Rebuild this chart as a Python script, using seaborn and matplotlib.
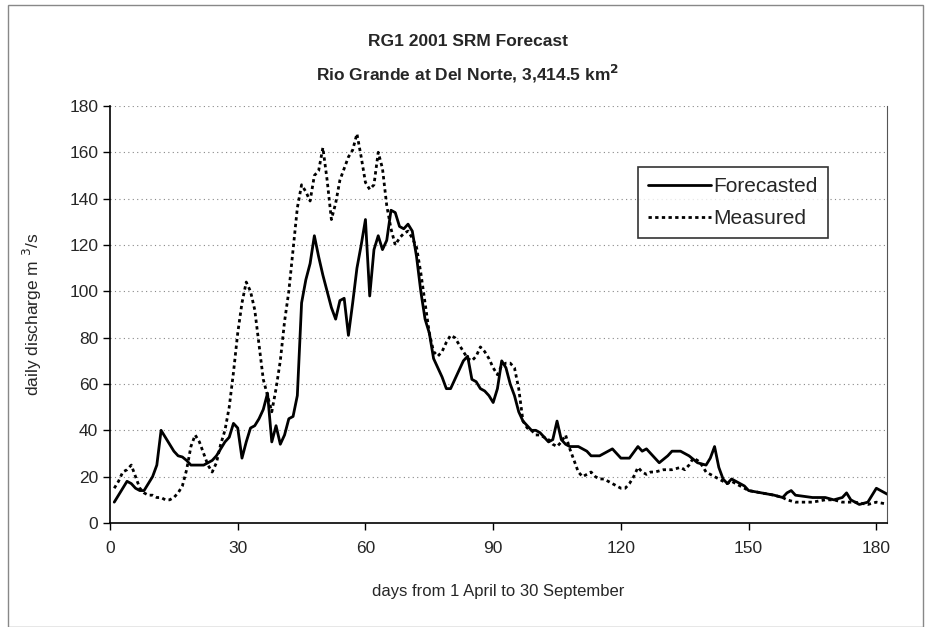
import numpy as np
import pandas as pd
import matplotlib
matplotlib.use("Agg")
import matplotlib.pyplot as plt
import seaborn as sns

# ---- data ----
fc_days = [1, 2, 3, 4, 5, 6, 7, 8, 9, 10, 11, 12, 13, 14, 15, 16, 17, 18, 19, 20, 21, 22, 23, 24, 25, 26, 27, 28, 29, 30,
           31, 32, 33, 34, 35, 36, 37, 38, 39, 40, 41, 42, 43, 44, 45, 46, 47, 48, 49, 50, 51, 52, 53, 54, 55, 56, 57, 58, 59, 60,
           61, 62, 63, 64, 65, 66, 67, 68, 69, 70, 71, 72, 73, 74, 75, 76, 77, 78, 79, 80, 81, 82, 83, 84, 85, 86, 87, 88, 89, 90,
           91, 92, 93, 94, 95, 96, 97, 98, 99, 100, 101, 102, 103, 104, 105, 106, 107, 108, 110, 112, 113, 115, 117, 118, 120,
           122, 124, 125, 126, 128, 129, 131, 132, 134, 136, 138, 140, 141, 142, 143, 144, 145, 146, 147, 149, 150, 153, 156,
           158, 159, 160, 161, 165, 168, 170, 172, 173, 174, 176, 178, 179, 180, 181, 182, 183]
fc_vals = [9, 12, 15, 18, 17, 15, 14, 14, 17, 20, 25, 40, 37, 34, 31, 29, 28.5, 27, 25, 25, 25, 25, 26, 27, 29, 32, 35, 37, 43, 41,
           28, 35, 41, 42, 45, 49, 56, 35, 42, 34, 38, 45, 46, 55, 95, 105, 112, 124, 115, 107, 100, 93, 88, 96, 97, 81, 95, 110, 120, 131,
           98, 118, 124, 118, 122, 135, 134, 128, 127, 129, 126, 115, 100, 88, 82, 71, 67, 63, 58, 58, 62, 66, 70, 72, 62, 61, 58, 57, 55, 52,
           58, 70, 67, 60, 55, 48, 44, 42, 40, 40, 39, 37, 35, 36, 44, 36, 34, 33, 33, 31, 29, 29, 31, 32, 28,
           28, 33, 31, 32, 28, 26, 29, 31, 31, 29, 26, 25, 28, 33, 24, 19, 17, 19, 18, 16, 14, 13, 12,
           11, 13, 14, 12, 11, 11, 10, 11, 13, 10, 8, 9, 12, 15, 14, 13, 12]

ms_days = [1, 2, 3, 4, 5, 6, 7, 8, 9, 10, 11, 12, 13, 14, 15, 16, 17, 18, 19, 20, 21, 22, 23, 24, 25, 26, 27, 28, 29, 30,
           31, 32, 33, 34, 35, 36, 37, 38, 39, 40, 41, 42, 43, 44, 45, 46, 47, 48, 49, 50, 51, 52, 53, 54, 55, 56, 57, 58, 59, 60,
           61, 62, 63, 64, 65, 66, 67, 68, 69, 70, 71, 72, 73, 74, 75, 76, 77, 78, 79, 80, 81, 82, 83, 84, 85, 86, 87, 88, 89, 90,
           91, 92, 93, 94, 95, 96, 97, 98, 99, 100, 101, 102, 103, 104, 105, 106, 107, 108, 109, 110, 111, 112, 113, 114, 115, 116,
           117, 118, 119, 120, 121, 122, 123, 124, 125, 126, 127, 128, 130, 132, 134, 135, 136, 137, 138, 139, 140, 142, 143, 144,
           145, 146, 148, 150, 153, 156, 158, 159, 161, 165, 168, 170, 172, 175, 178, 180, 183]
ms_vals = [15, 18, 22, 23, 25, 20, 15, 13, 12, 12, 11, 11, 10, 10, 11, 13, 16, 23, 33, 38, 35, 30, 25, 22, 26, 34, 40, 50, 65, 82,
           95, 104, 100, 92, 77, 62, 55, 48, 58, 70, 87, 100, 118, 136, 146, 143, 139, 150, 152, 162, 148, 131, 138, 148, 153, 158, 161, 168, 158, 147,
           144, 146, 160, 153, 137, 127, 120, 123, 125, 126, 123, 119, 108, 95, 82, 74, 72, 74, 78, 81, 80, 77, 74, 71, 70, 72, 76, 74, 71, 67,
           64, 68, 69, 69, 67, 58, 44, 41, 40, 38, 38, 37, 36, 34, 33, 35, 38, 32, 27, 22, 20, 21, 22, 20, 19, 19,
           18, 17, 16, 15, 15, 17, 20, 24, 22, 21, 22, 22, 23, 23, 24, 23, 25, 28, 27, 25, 22, 20, 19, 18,
           17, 18, 16, 14, 13, 12, 11, 10, 9, 9, 10, 10, 9, 9, 8, 9, 8]

x_ticks = [0, 30, 60, 90, 120, 150, 180]
y_ticks = [0, 20, 40, 60, 80, 100, 120, 140, 160, 180]

df_fc = pd.DataFrame({"day": fc_days, "q": fc_vals})
df_ms = pd.DataFrame({"day": ms_days, "q": ms_vals})

sns.set_theme(style="white")
plt.rcParams["font.family"] = ["Liberation Sans", "DejaVu Sans"]

fig = plt.figure(figsize=(9.35, 6.27), dpi=100)
ax_left, ax_right, ax_top, ax_bot = 110, 887, 106, 523
ax = fig.add_axes([ax_left / 935, 1 - ax_bot / 627, (ax_right - ax_left) / 935, (ax_bot - ax_top) / 627])

sns.lineplot(data=df_fc, x="day", y="q", ax=ax, color="black", lw=2.0, label="Forecasted")
sns.lineplot(data=df_ms, x="day", y="q", ax=ax, color="black", lw=2.0, label="Measured",
             linestyle=(0, (1.2, 1.2)))

ax.set_xlim(0, 182.5)
ax.set_ylim(0, 180)
ax.set_xticks(x_ticks)
ax.set_yticks(y_ticks)
ax.tick_params(axis="both", labelsize=12.5, direction="out", length=5, width=1, color="black",
               bottom=True, left=True)
ax.tick_params(axis="x", pad=8)
for y in y_ticks[1:]:
    ax.axhline(y, color="#888888", lw=0.8, linestyle=(0, (1, 3)), zorder=0)
for s in ["left", "bottom"]:
    ax.spines[s].set_color("black")
    ax.spines[s].set_linewidth(1.2)
ax.spines["top"].set_visible(False)
ax.spines["right"].set_color("#555555")
ax.spines["right"].set_linewidth(0.8)

ax.set_xlabel("days from 1 April to 30 September", fontsize=12, labelpad=20)
ax.set_ylabel("daily discharge m $^{3}$/s", fontsize=12.5, labelpad=18)

fig.text(0.5, 1 - 42 / 627, "RG1 2001 SRM Forecast", ha="center", va="center",
         fontsize=12.5, fontweight="bold")
fig.text(0.5, 1 - 74 / 627, "Rio Grande at Del Norte, 3,414.5 km$^\\mathbf{2}$", ha="center", va="center",
         fontsize=12.5, fontweight="bold")

leg = ax.legend(loc="upper left",
                bbox_to_anchor=((638 - ax_left) / (ax_right - ax_left), (ax_bot - 167) / (ax_bot - ax_top)),
                borderaxespad=0.0,
                fontsize=15, frameon=True, fancybox=False, edgecolor="black",
                handlelength=3.0, handletextpad=0.1, borderpad=0.5, labelspacing=0.6)
leg.get_frame().set_linewidth(1.2)

# outer chart border
fig.patches.append(plt.Rectangle((8 / 935, 0.0), 915 / 935, 1 - 5 / 627, transform=fig.transFigure,
                                 fill=False, edgecolor="#888888", lw=1.0))

fig.savefig("out.png", dpi=100)
